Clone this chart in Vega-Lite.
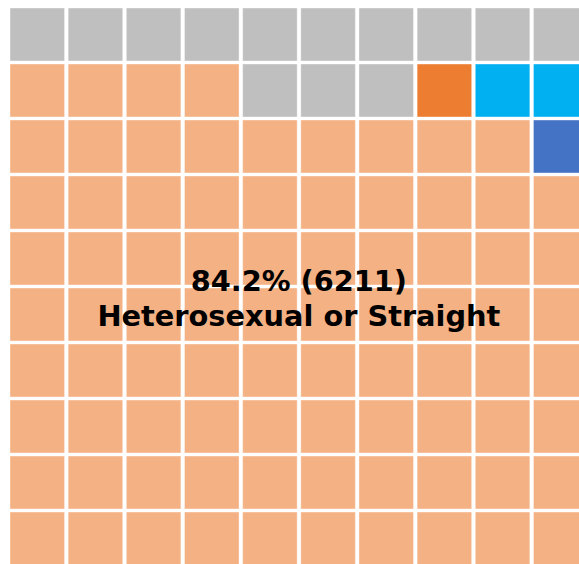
{
  "$schema": "https://vega.github.io/schema/vega-lite/v6.json",
  "autosize": "none",
  "width": 578,
  "height": 557,
  "padding": {"left": 10, "top": 8, "right": 0, "bottom": 0},
  "background": "white",
  "config": {"view": {"stroke": null}},
  "datasets": {
    "cells": [
      {"r":0,"c":0,"g":"Not stated"},{"r":0,"c":1,"g":"Not stated"},{"r":0,"c":2,"g":"Not stated"},{"r":0,"c":3,"g":"Not stated"},{"r":0,"c":4,"g":"Not stated"},{"r":0,"c":5,"g":"Not stated"},{"r":0,"c":6,"g":"Not stated"},{"r":0,"c":7,"g":"Not stated"},{"r":0,"c":8,"g":"Not stated"},{"r":0,"c":9,"g":"Not stated"},
      {"r":1,"c":0,"g":"Heterosexual or Straight"},{"r":1,"c":1,"g":"Heterosexual or Straight"},{"r":1,"c":2,"g":"Heterosexual or Straight"},{"r":1,"c":3,"g":"Heterosexual or Straight"},{"r":1,"c":4,"g":"Not stated"},{"r":1,"c":5,"g":"Not stated"},{"r":1,"c":6,"g":"Not stated"},{"r":1,"c":7,"g":"Bisexual"},{"r":1,"c":8,"g":"Gay or Lesbian"},{"r":1,"c":9,"g":"Gay or Lesbian"},
      {"r":2,"c":0,"g":"Heterosexual or Straight"},{"r":2,"c":1,"g":"Heterosexual or Straight"},{"r":2,"c":2,"g":"Heterosexual or Straight"},{"r":2,"c":3,"g":"Heterosexual or Straight"},{"r":2,"c":4,"g":"Heterosexual or Straight"},{"r":2,"c":5,"g":"Heterosexual or Straight"},{"r":2,"c":6,"g":"Heterosexual or Straight"},{"r":2,"c":7,"g":"Heterosexual or Straight"},{"r":2,"c":8,"g":"Heterosexual or Straight"},{"r":2,"c":9,"g":"Other"},
      {"r":3,"c":0,"g":"Heterosexual or Straight"},{"r":3,"c":1,"g":"Heterosexual or Straight"},{"r":3,"c":2,"g":"Heterosexual or Straight"},{"r":3,"c":3,"g":"Heterosexual or Straight"},{"r":3,"c":4,"g":"Heterosexual or Straight"},{"r":3,"c":5,"g":"Heterosexual or Straight"},{"r":3,"c":6,"g":"Heterosexual or Straight"},{"r":3,"c":7,"g":"Heterosexual or Straight"},{"r":3,"c":8,"g":"Heterosexual or Straight"},{"r":3,"c":9,"g":"Heterosexual or Straight"},
      {"r":4,"c":0,"g":"Heterosexual or Straight"},{"r":4,"c":1,"g":"Heterosexual or Straight"},{"r":4,"c":2,"g":"Heterosexual or Straight"},{"r":4,"c":3,"g":"Heterosexual or Straight"},{"r":4,"c":4,"g":"Heterosexual or Straight"},{"r":4,"c":5,"g":"Heterosexual or Straight"},{"r":4,"c":6,"g":"Heterosexual or Straight"},{"r":4,"c":7,"g":"Heterosexual or Straight"},{"r":4,"c":8,"g":"Heterosexual or Straight"},{"r":4,"c":9,"g":"Heterosexual or Straight"},
      {"r":5,"c":0,"g":"Heterosexual or Straight"},{"r":5,"c":1,"g":"Heterosexual or Straight"},{"r":5,"c":2,"g":"Heterosexual or Straight"},{"r":5,"c":3,"g":"Heterosexual or Straight"},{"r":5,"c":4,"g":"Heterosexual or Straight"},{"r":5,"c":5,"g":"Heterosexual or Straight"},{"r":5,"c":6,"g":"Heterosexual or Straight"},{"r":5,"c":7,"g":"Heterosexual or Straight"},{"r":5,"c":8,"g":"Heterosexual or Straight"},{"r":5,"c":9,"g":"Heterosexual or Straight"},
      {"r":6,"c":0,"g":"Heterosexual or Straight"},{"r":6,"c":1,"g":"Heterosexual or Straight"},{"r":6,"c":2,"g":"Heterosexual or Straight"},{"r":6,"c":3,"g":"Heterosexual or Straight"},{"r":6,"c":4,"g":"Heterosexual or Straight"},{"r":6,"c":5,"g":"Heterosexual or Straight"},{"r":6,"c":6,"g":"Heterosexual or Straight"},{"r":6,"c":7,"g":"Heterosexual or Straight"},{"r":6,"c":8,"g":"Heterosexual or Straight"},{"r":6,"c":9,"g":"Heterosexual or Straight"},
      {"r":7,"c":0,"g":"Heterosexual or Straight"},{"r":7,"c":1,"g":"Heterosexual or Straight"},{"r":7,"c":2,"g":"Heterosexual or Straight"},{"r":7,"c":3,"g":"Heterosexual or Straight"},{"r":7,"c":4,"g":"Heterosexual or Straight"},{"r":7,"c":5,"g":"Heterosexual or Straight"},{"r":7,"c":6,"g":"Heterosexual or Straight"},{"r":7,"c":7,"g":"Heterosexual or Straight"},{"r":7,"c":8,"g":"Heterosexual or Straight"},{"r":7,"c":9,"g":"Heterosexual or Straight"},
      {"r":8,"c":0,"g":"Heterosexual or Straight"},{"r":8,"c":1,"g":"Heterosexual or Straight"},{"r":8,"c":2,"g":"Heterosexual or Straight"},{"r":8,"c":3,"g":"Heterosexual or Straight"},{"r":8,"c":4,"g":"Heterosexual or Straight"},{"r":8,"c":5,"g":"Heterosexual or Straight"},{"r":8,"c":6,"g":"Heterosexual or Straight"},{"r":8,"c":7,"g":"Heterosexual or Straight"},{"r":8,"c":8,"g":"Heterosexual or Straight"},{"r":8,"c":9,"g":"Heterosexual or Straight"},
      {"r":9,"c":0,"g":"Heterosexual or Straight"},{"r":9,"c":1,"g":"Heterosexual or Straight"},{"r":9,"c":2,"g":"Heterosexual or Straight"},{"r":9,"c":3,"g":"Heterosexual or Straight"},{"r":9,"c":4,"g":"Heterosexual or Straight"},{"r":9,"c":5,"g":"Heterosexual or Straight"},{"r":9,"c":6,"g":"Heterosexual or Straight"},{"r":9,"c":7,"g":"Heterosexual or Straight"},{"r":9,"c":8,"g":"Heterosexual or Straight"},{"r":9,"c":9,"g":"Heterosexual or Straight"}
    ],
    "label": [
      {"r": 4, "c": 4, "text": "84.2% (6211)\nHeterosexual or Straight"}
    ]
  },
  "layer": [
    {
      "data": {"name": "cells"},
      "mark": {"type": "rect", "stroke": "white", "strokeWidth": 1, "strokeOpacity": 0.4},
      "encoding": {
        "x": {"field": "c", "type": "ordinal", "axis": null, "scale": {"domain": [0,1,2,3,4,5,6,7,8,9], "paddingInner": 0.062, "paddingOuter": 0}},
        "y": {"field": "r", "type": "ordinal", "axis": null, "scale": {"domain": [0,1,2,3,4,5,6,7,8,9], "paddingInner": 0.054, "paddingOuter": 0}},
        "color": {
          "field": "g", "type": "nominal", "legend": null,
          "scale": {
            "domain": ["Not stated", "Heterosexual or Straight", "Bisexual", "Gay or Lesbian", "Other"],
            "range": ["#BFBFBF", "#F4B183", "#ED7D31", "#00B0F0", "#4472C4"]
          }
        }
      }
    },
    {
      "data": {"name": "label"},
      "mark": {"type": "text", "font": "DejaVu Sans", "fontWeight": "bold", "fontSize": 28.8, "lineBreak": "\n", "lineHeight": 35, "align": "center", "baseline": "alphabetic", "color": "black"},
      "encoding": {
        "x": {"field": "c", "type": "ordinal", "bandPosition": 1.03},
        "y": {"field": "r", "type": "ordinal", "bandPosition": 1.11},
        "text": {"field": "text"}
      }
    }
  ]
}
